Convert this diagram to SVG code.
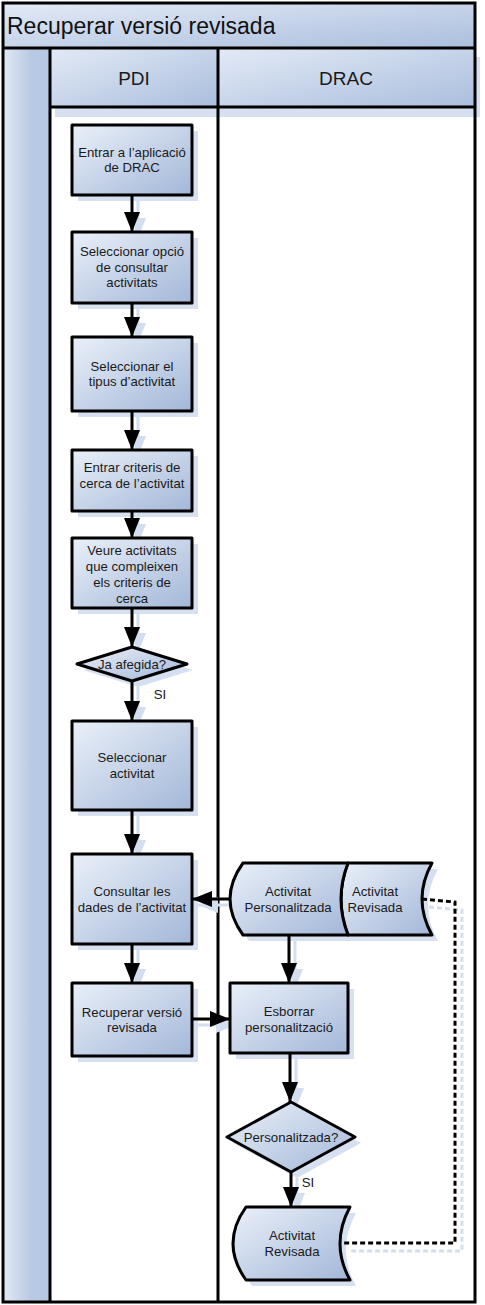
<svg xmlns="http://www.w3.org/2000/svg" width="485" height="1305" viewBox="0 0 485 1305">
<defs>
<linearGradient id="gBox" x1="0" y1="0" x2="1" y2="1">
<stop offset="0" stop-color="#eaf0f9"/>
<stop offset="1" stop-color="#a3b7d8"/>
</linearGradient>
<linearGradient id="gBar" x1="0" y1="0" x2="1" y2="1">
<stop offset="0" stop-color="#e3eaf6"/>
<stop offset="1" stop-color="#aabedd"/>
</linearGradient>
<linearGradient id="gSide" x1="0" y1="0" x2="1" y2="0">
<stop offset="0" stop-color="#e2e9f5"/>
<stop offset="0.6" stop-color="#b8c9e4"/>
<stop offset="1" stop-color="#b6c8e3"/>
</linearGradient>
<marker id="arr" markerUnits="userSpaceOnUse" markerWidth="20" markerHeight="16" refX="20" refY="8" orient="auto">
<path d="M0,0 L20,8 L0,16 Z" fill="#000"/>
</marker>
<marker id="arrS" markerUnits="userSpaceOnUse" markerWidth="20" markerHeight="16" refX="20" refY="8" orient="auto">
<path d="M0,0 L20,8 L0,16 Z" fill="#d3deef"/>
</marker>
</defs>
<style>
.box{fill:url(#gBox);stroke:#000;stroke-width:3;stroke-linejoin:round}
.sh{fill:#d6e0f0;stroke:none}
.t{font-family:"Liberation Sans",Arial,sans-serif;font-size:13.2px;fill:#1a1a1a;text-anchor:middle}
.hd{font-family:"Liberation Sans",Arial,sans-serif;font-size:19px;fill:#1a1a1a;text-anchor:middle}
.ln{fill:none;stroke:#000;stroke-width:3}
.lnS{fill:none;stroke:#d3deef;stroke-width:3}
.frm{fill:none;stroke:#000;stroke-width:3}
</style>

<g id="pool">
<rect x="3" y="3" width="472" height="1299" fill="#fff"/>
<rect x="3" y="3" width="472" height="45" fill="url(#gBar)"/>
<rect x="3" y="48" width="47" height="1254" fill="url(#gSide)"/>
<rect x="55" y="57" width="168" height="60" fill="#d6e0f0"/>
<rect x="223" y="57" width="257" height="60" fill="#d6e0f0"/>
<rect x="50" y="48" width="168" height="59" fill="url(#gBar)"/>
<rect x="218" y="48" width="257" height="59" fill="url(#gBar)"/>
<text x="7" y="34" font-family="'Liberation Sans',Arial,sans-serif" font-size="23" fill="#111">Recuperar versió revisada</text>
<text class="hd" x="134" y="85">PDI</text>
<text class="hd" x="346" y="85">DRAC</text>
<line class="frm" x1="3" y1="48" x2="475" y2="48"/>
<line class="frm" x1="50" y1="107" x2="475" y2="107"/>
<line class="frm" x1="50" y1="48" x2="50" y2="1302"/>
<line class="frm" x1="218" y1="48" x2="218" y2="1302"/>
<rect class="frm" x="3" y="3" width="472" height="1299"/>
</g>

<g id="shadows">
<rect class="sh" x="78" y="131" width="120" height="70"/>
<rect class="sh" x="78" y="238" width="120" height="71"/>
<rect class="sh" x="78" y="343" width="120" height="74"/>
<rect class="sh" x="78" y="456" width="120" height="61"/>
<rect class="sh" x="78" y="544" width="120" height="70"/>
<polygon class="sh" points="83,670 138,653 193,670 138,687"/>
<rect class="sh" x="78" y="727" width="120" height="89"/>
<rect class="sh" x="78" y="860" width="120" height="90"/>
<rect class="sh" x="78" y="989" width="120" height="73"/>
<path class="sh" d="M249,869 L438,869 Q418,905 438,941 L249,941 Q223,905 249,869 Z"/>
<rect class="sh" x="236" y="989" width="118" height="70"/>
<polygon class="sh" points="233,1143 297,1108 361,1143 297,1178"/>
<path class="sh" d="M252,1213 L356,1213 Q336,1249.5 356,1286 L252,1286 Q226,1249.5 252,1213 Z"/>
</g>

<g id="connectors">
<g id="connector-shadows">
<line class="lnS" x1="138" y1="201" x2="138" y2="238" marker-end="url(#arrS)"/>
<line class="lnS" x1="138" y1="309" x2="138" y2="343" marker-end="url(#arrS)"/>
<line class="lnS" x1="138" y1="417" x2="138" y2="456" marker-end="url(#arrS)"/>
<line class="lnS" x1="138" y1="517" x2="138" y2="544" marker-end="url(#arrS)"/>
<line class="lnS" x1="138" y1="614" x2="138" y2="653" marker-end="url(#arrS)"/>
<line class="lnS" x1="138" y1="687" x2="138" y2="727" marker-end="url(#arrS)"/>
<line class="lnS" x1="138" y1="816" x2="138" y2="860" marker-end="url(#arrS)"/>
<line class="lnS" x1="138" y1="950" x2="138" y2="989" marker-end="url(#arrS)"/>
<line class="lnS" x1="236" y1="905" x2="198" y2="905" marker-end="url(#arrS)"/>
<line class="lnS" x1="198" y1="1025" x2="236" y2="1025" marker-end="url(#arrS)"/>
<line class="lnS" x1="295" y1="941" x2="295" y2="989" marker-end="url(#arrS)"/>
<line class="lnS" x1="296" y1="1059" x2="296" y2="1108" marker-end="url(#arrS)"/>
<line class="lnS" x1="297" y1="1178" x2="297" y2="1213" marker-end="url(#arrS)"/>
<path class="lnS" d="M429,907 L462,910 L462,1251 L349,1251" stroke-dasharray="5 3"/>
</g>
<line class="ln" x1="132" y1="195" x2="132" y2="232" marker-end="url(#arr)"/>
<line class="ln" x1="132" y1="303" x2="132" y2="337" marker-end="url(#arr)"/>
<line class="ln" x1="132" y1="411" x2="132" y2="450" marker-end="url(#arr)"/>
<line class="ln" x1="132" y1="511" x2="132" y2="538" marker-end="url(#arr)"/>
<line class="ln" x1="132" y1="608" x2="132" y2="647" marker-end="url(#arr)"/>
<line class="ln" x1="132" y1="681" x2="132" y2="721" marker-end="url(#arr)"/>
<text class="t" x="160" y="699">SI</text>
<line class="ln" x1="132" y1="810" x2="132" y2="854" marker-end="url(#arr)"/>
<line class="ln" x1="132" y1="944" x2="132" y2="983" marker-end="url(#arr)"/>
<line class="ln" x1="230" y1="899" x2="192" y2="899" marker-end="url(#arr)"/>
<line class="ln" x1="192" y1="1019" x2="230" y2="1019" marker-end="url(#arr)"/>
<line class="ln" x1="289" y1="935" x2="289" y2="983" marker-end="url(#arr)"/>
<line class="ln" x1="290" y1="1053" x2="290" y2="1102" marker-end="url(#arr)"/>
<line class="ln" x1="291" y1="1172" x2="291" y2="1207" marker-end="url(#arr)"/>
<text class="t" x="308" y="1187">SI</text>
<path class="ln" d="M422,899 L455,902 L455,1243 L342,1243" stroke-dasharray="5 3"/>
</g>

<g id="n1">
<rect class="box" x="72" y="125" width="120" height="70"/>
<text class="t" x="132" y="157">Entrar a l’aplicació</text>
<text class="t" x="132" y="172">de DRAC</text>
</g>
<g id="n2">
<rect class="box" x="72" y="232" width="120" height="71"/>
<text class="t" x="132" y="256">Seleccionar opció</text>
<text class="t" x="132" y="271.5">de consultar</text>
<text class="t" x="132" y="287">activitats</text>
</g>
<g id="n3">
<rect class="box" x="72" y="337" width="120" height="74"/>
<text class="t" x="132" y="370.5">Seleccionar el</text>
<text class="t" x="132" y="386">tipus d’activitat</text>
</g>
<g id="n4">
<rect class="box" x="72" y="450" width="120" height="61"/>
<text class="t" x="132" y="472">Entrar criteris de</text>
<text class="t" x="132" y="488">cerca de l’activitat</text>
</g>
<g id="n5">
<rect class="box" x="72" y="538" width="120" height="70"/>
<text class="t" x="132" y="554.5">Veure activitats</text>
<text class="t" x="132" y="570.5">que compleixen</text>
<text class="t" x="132" y="586.5">els criteris de</text>
<text class="t" x="132" y="602.5">cerca</text>
</g>
<g id="d1">
<polygon class="box" points="77,664 132,647 187,664 132,681"/>
<text class="t" x="132" y="668.5">Ja afegida?</text>
</g>
<g id="n6">
<rect class="box" x="72" y="721" width="120" height="89"/>
<text class="t" x="132" y="761.5">Seleccionar</text>
<text class="t" x="132" y="777.5">activitat</text>
</g>
<g id="n7">
<rect class="box" x="72" y="854" width="120" height="90"/>
<text class="t" x="132" y="895.5">Consultar les</text>
<text class="t" x="132" y="911.5">dades de l’activitat</text>
</g>
<g id="n8">
<rect class="box" x="72" y="983" width="120" height="73"/>
<text class="t" x="132" y="1016.5">Recuperar versió</text>
<text class="t" x="132" y="1031.5">revisada</text>
</g>
<g id="ds-revisada-1">
<path class="box" d="M348,863 L432,863 Q412,899 432,935 L348,935 Q334,899 348,863 Z"/>
<text class="t" x="375" y="895.5">Activitat</text>
<text class="t" x="375" y="911.5">Revisada</text>
</g>
<g id="ds-personalitzada">
<path class="box" d="M243,863 L348,863 Q334,899 348,935 L243,935 Q217,899 243,863 Z"/>
<text class="t" x="288" y="895.5">Activitat</text>
<text class="t" x="288" y="911.5">Personalitzada</text>
</g>
<g id="n9">
<rect class="box" x="230" y="983" width="118" height="70"/>
<text class="t" x="289" y="1015.5">Esborrar</text>
<text class="t" x="289" y="1031.5">personalització</text>
</g>
<g id="d2">
<polygon class="box" points="227,1137 291,1102 355,1137 291,1172"/>
<text class="t" x="291" y="1141.5">Personalitzada?</text>
</g>
<g id="ds-revisada-2">
<path class="box" d="M246,1207 L350,1207 Q330,1243.5 350,1280 L246,1280 Q220,1243.5 246,1207 Z"/>
<text class="t" x="292" y="1239.5">Activitat</text>
<text class="t" x="292" y="1256">Revisada</text>
</g>
</svg>
